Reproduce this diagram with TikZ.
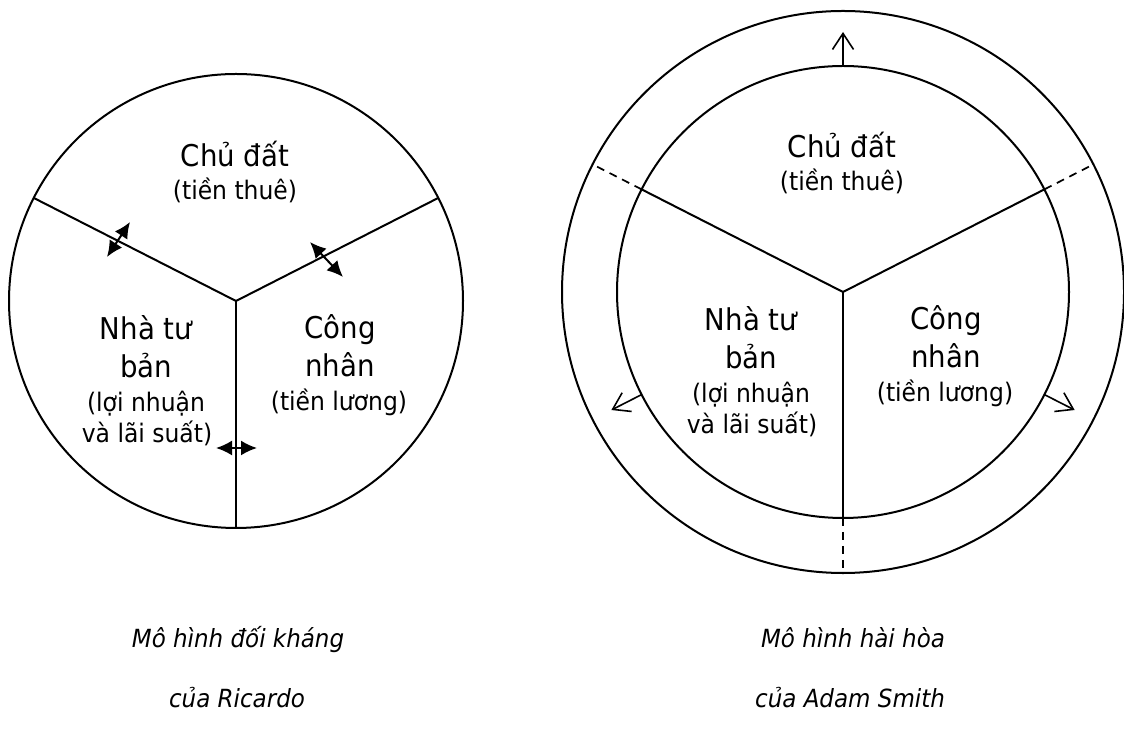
\documentclass[tikz,border=0pt]{standalone}
\usepackage{fontspec}
\setmainfont{DejaVu Sans}[FakeStretch=0.92]
\usetikzlibrary{arrows.meta,calc}
\begin{document}
\begin{tikzpicture}[x=1pt,y=1pt,
  ringline/.style={line width=2pt},
  spokeline/.style={line width=2pt},
  dashspoke/.style={line width=1.7pt, dash pattern=on 8pt off 6pt},
  pusharrow/.style={line width=2pt,
    {Latex[length=16pt,width=15pt]}-{Latex[length=16pt,width=15pt]}},
  growarrow/.style={line width=1.6pt,
    -{Straight Barb[length=16pt,width=21pt,line width=1.6pt]}},
  bigtext/.style={font=\fontsize{30}{36}\selectfont, anchor=base, inner sep=0pt},
  smalltext/.style={font=\fontsize{25.5}{30}\selectfont, anchor=base, inner sep=0pt},
  captext/.style={font=\itshape\fontsize{25}{30}\selectfont, anchor=base, inner sep=0pt}]
\useasboundingbox (0,0) rectangle (1124,733);

% ---------- Ricardo: conflicting shares ----------
\coordinate (LC) at (236,432);
\draw[ringline] (LC) circle[radius=227pt];
\coordinate (LA) at ($(LC)+(153:227pt)$);
\coordinate (LB) at ($(LC)+(27:227pt)$);
\coordinate (LD) at ($(LC)+(270:227pt)$);
\draw[spokeline] (LC) -- (LA);
\draw[spokeline] (LC) -- (LB);
\draw[spokeline] (LC) -- (LD);

\node[bigtext]   (l-land)  at (235,566) {Chủ đất};
\node[smalltext] (l-rent)  at (235,533) {(tiền thuê)};
\node[bigtext]   (l-cap1)  at (146,393.5) {Nhà tư};
\node[bigtext]   (l-cap2)  at (146,355) {bản};
\node[smalltext] (l-prof1) at (146,321) {(lợi nhuận};
\node[smalltext] (l-prof2) at (147,290) {và lãi suất)};
\node[bigtext]   (l-wrk1)  at (340,394) {Công};
\node[bigtext]   (l-wrk2)  at (340,356) {nhân};
\node[smalltext] (l-wage)  at (339,322) {(tiền lương)};

% boundary pressure arrows
\coordinate (p1s) at (107,476);
\coordinate (p1e) at (130,511);
\coordinate (p2s) at (310,491);
\coordinate (p2e) at (343,456);
\coordinate (p3s) at (216,285);
\coordinate (p3e) at (257,285);
\draw[pusharrow] (p1s) -- (p1e);
\draw[pusharrow] (p2s) -- (p2e);
\draw[pusharrow] (p3s) -- (p3e);

% ---------- Smith: growing shares ----------
\coordinate (RC) at (843,441);
\draw[ringline] (RC) circle[radius=226pt];
\draw[ringline] (RC) circle[radius=281pt];
\foreach \a/\n in {153/a,27/b,270/d}{
  \coordinate (Ri\n) at ($(RC)+(\a:226pt)$);
  \coordinate (Ro\n) at ($(RC)+(\a:282pt)$);
  \draw[spokeline] (RC) -- (Ri\n);
  \draw[dashspoke] (Ri\n) -- (Ro\n);
}
\foreach \a/\n in {90/t,207/l,333/r}{
  \coordinate (Gs\n) at ($(RC)+(\a:226pt)$);
  \coordinate (Ge\n) at ($(RC)+(\a:260pt)$);
  \draw[growarrow] (Gs\n) -- (Ge\n);
}

\node[bigtext]   (r-land)  at (842,575) {Chủ đất};
\node[smalltext] (r-rent)  at (842,542) {(tiền thuê)};
\node[bigtext]   (r-cap1)  at (751,402.5) {Nhà tư};
\node[bigtext]   (r-cap2)  at (751,364) {bản};
\node[smalltext] (r-prof1) at (751,330) {(lợi nhuận};
\node[smalltext] (r-prof2) at (752,299) {và lãi suất)};
\node[bigtext]   (r-wrk1)  at (946,403) {Công};
\node[bigtext]   (r-wrk2)  at (946,365) {nhân};
\node[smalltext] (r-wage)  at (945,331) {(tiền lương)};

% ---------- captions ----------
\node[captext] (cap-l1) at (238,85) {Mô hình đối kháng};
\node[captext] (cap-l2) at (237,25) {của Ricardo};
\node[captext] (cap-r1) at (853,85) {Mô hình hài hòa};
\node[captext] (cap-r2) at (850,25) {của Adam Smith};
\end{tikzpicture}
\end{document}
